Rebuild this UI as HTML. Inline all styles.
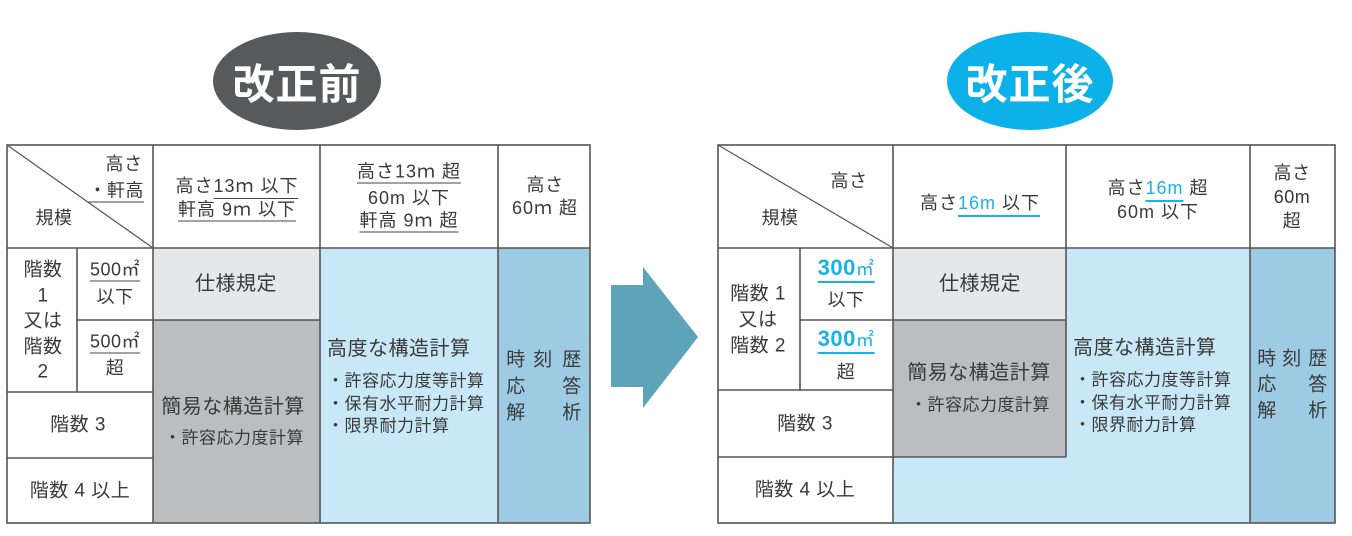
<!DOCTYPE html>
<html><head><meta charset="utf-8"><style>
*{margin:0;padding:0;box-sizing:border-box}
body{width:1352px;height:536px;background:#fff;position:relative;overflow:hidden;font-family:"Liberation Sans","Noto Sans CJK JP",sans-serif;color:#3a3a3a}
.r{position:absolute}
.t{position:absolute;transform:translate(-50%,-50%);white-space:nowrap;font-size:18px;line-height:1;letter-spacing:0.5px}
.l{position:absolute;transform:translateY(-50%);white-space:nowrap;font-size:17px;line-height:1;letter-spacing:0.5px}
.u{border-bottom:1.5px solid #444;padding-bottom:2px}
.ub{border-bottom:2px solid #1ab0e8;padding-bottom:2px}
.b{color:#1ab0e8}
.oval{position:absolute;border-radius:50%;color:#fff;font-weight:bold;font-size:42px;display:flex;align-items:center;justify-content:center;letter-spacing:1px}
</style></head><body>
<div class="oval" style="left:213px;top:32px;width:168px;height:98px;background:#58595b">改正前</div>
<div class="oval" style="left:947px;top:32px;width:166px;height:98px;background:#0db1ea">改正後</div>

<svg class="r" style="left:0;top:0" width="1352" height="536">
<polygon points="611,285 643,285 643,267 698,337 643,408 643,387 611,387" fill="#5da3ba"/>
<rect x="153" y="248" width="167" height="72" fill="#e6e7e8"/>
<rect x="153" y="320" width="167" height="203" fill="#bcbdc0"/>
<rect x="320" y="248" width="178" height="275" fill="#c8e8f8"/>
<rect x="498" y="248" width="92" height="275" fill="#9ccbe3"/>
<g stroke="#555" stroke-width="1.6" fill="none">
<rect x="7" y="145" width="583" height="378"/>
<line x1="7" y1="248" x2="590" y2="248"/>
<line x1="153" y1="145" x2="153" y2="523"/>
<line x1="320" y1="145" x2="320" y2="523"/>
<line x1="498" y1="145" x2="498" y2="523"/>
<line x1="77" y1="248" x2="77" y2="392"/>
<line x1="77" y1="320" x2="320" y2="320"/>
<line x1="7" y1="392" x2="153" y2="392"/>
<line x1="7" y1="458" x2="153" y2="458"/>
<line x1="7" y1="145" x2="153" y2="248" stroke-width="1.2"/>
</g>
<rect x="893" y="248" width="173" height="72" fill="#e6e7e8"/>
<rect x="893" y="320" width="173" height="137" fill="#bcbdc0"/>
<rect x="1066" y="248" width="184" height="209" fill="#c8e8f8"/>
<rect x="893" y="457" width="357" height="66" fill="#c8e8f8"/>
<rect x="1250" y="248" width="85" height="275" fill="#9ccbe3"/>
<g stroke="#555" stroke-width="1.6" fill="none">
<rect x="718" y="145" width="617" height="378"/>
<line x1="718" y1="248" x2="1335" y2="248"/>
<line x1="893" y1="145" x2="893" y2="523"/>
<line x1="1066" y1="145" x2="1066" y2="457"/>
<line x1="1250" y1="145" x2="1250" y2="523"/>
<line x1="800" y1="248" x2="800" y2="390"/>
<line x1="800" y1="320" x2="1066" y2="320"/>
<line x1="718" y1="390" x2="893" y2="390"/>
<line x1="718" y1="457" x2="1066" y2="457"/>
<line x1="718" y1="145" x2="893" y2="248" stroke-width="1.2"/>
</g>
</svg>

<div class="t" style="left:124px;top:164px">高さ</div>
<div class="t u" style="left:116px;top:192px;width:56px;text-align:right">・軒高</div>
<div class="t" style="left:54px;top:218px">規模</div>
<div class="t" style="left:237px;top:186px;letter-spacing:1px">高さ<span class="u">13ｍ 以下</span></div>
<div class="t u" style="left:237px;top:211px;letter-spacing:1px">軒高 9ｍ 以下</div>
<div class="t u" style="left:409px;top:173px;letter-spacing:1px">高さ13ｍ 超</div>
<div class="t" style="left:409px;top:198px;letter-spacing:1px">60m 以下</div>
<div class="t u" style="left:409px;top:222px;letter-spacing:1px">軒高 9ｍ 超</div>
<div class="t" style="left:545px;top:185px">高さ</div>
<div class="t" style="left:545px;top:208px;letter-spacing:1px">60ｍ 超</div>
<div class="t" style="left:43px;top:270px;font-size:19px">階数</div>
<div class="t" style="left:43px;top:296px;font-size:19px">1</div>
<div class="t" style="left:43px;top:321px;font-size:19px">又は</div>
<div class="t" style="left:43px;top:347px;font-size:19px">階数</div>
<div class="t" style="left:43px;top:372px;font-size:19px">2</div>
<div class="t u" style="left:115px;top:271px">500㎡</div>
<div class="t" style="left:115px;top:297px">以下</div>
<div class="t u" style="left:115px;top:343px">500㎡</div>
<div class="t" style="left:115px;top:368px">超</div>
<div class="t" style="left:78px;top:425px;font-size:19px">階数 3</div>
<div class="t" style="left:80px;top:491px;font-size:19px">階数 4 以上</div>
<div class="t" style="left:236px;top:284px;font-size:20px">仕様規定</div>
<div class="t" style="left:233px;top:407px;font-size:20px">簡易な構造計算</div>
<div class="t" style="left:234px;top:438px;font-size:17px">・許容応力度計算</div>
<div class="l" style="left:327px;top:349px;font-size:20px">高度な構造計算</div>
<div class="l" style="left:327px;top:381px">・許容応力度等計算</div>
<div class="l" style="left:327px;top:404px">・保有水平耐力計算</div>
<div class="l" style="left:327px;top:426px">・限界耐力計算</div>
<div class="t" style="left:516px;top:360px;font-size:19px">時</div>
<div class="t" style="left:543px;top:360px;font-size:19px">刻</div>
<div class="t" style="left:572px;top:360px;font-size:19px">歴</div>
<div class="t" style="left:516px;top:387px;font-size:19px">応</div>
<div class="t" style="left:572px;top:387px;font-size:19px">答</div>
<div class="t" style="left:516px;top:413px;font-size:19px">解</div>
<div class="t" style="left:572px;top:413px;font-size:19px">析</div>

<div class="t" style="left:849px;top:181px">高さ</div>
<div class="t" style="left:780px;top:218px">規模</div>
<div class="t" style="left:980px;top:203px;letter-spacing:1px">高さ<span class="ub"><span class="b">16m</span> 以下</span></div>
<div class="t" style="left:1158px;top:188px;letter-spacing:1px">高さ<span class="ub"><span class="b">16m</span></span> 超</div>
<div class="t" style="left:1158px;top:212px;letter-spacing:1px">60m 以下</div>
<div class="t" style="left:1292px;top:173px">高さ</div>
<div class="t" style="left:1292px;top:197px">60m</div>
<div class="t" style="left:1292px;top:221px">超</div>
<div class="t" style="left:758px;top:294px;font-size:19px">階数 1</div>
<div class="t" style="left:758px;top:320px;font-size:19px">又は</div>
<div class="t" style="left:758px;top:346px;font-size:19px">階数 2</div>
<div class="t ub" style="left:846px;top:270px;font-size:22px;font-weight:bold;color:#1ab0e8">300<span style="font-weight:normal;font-size:18px">㎡</span></div>
<div class="t" style="left:846px;top:300px">以下</div>
<div class="t ub" style="left:846px;top:341px;font-size:22px;font-weight:bold;color:#1ab0e8">300<span style="font-weight:normal;font-size:18px">㎡</span></div>
<div class="t" style="left:846px;top:372px">超</div>
<div class="t" style="left:805px;top:424px;font-size:19px">階数 3</div>
<div class="t" style="left:805px;top:490px;font-size:19px">階数 4 以上</div>
<div class="t" style="left:980px;top:284px;font-size:20px">仕様規定</div>
<div class="t" style="left:979px;top:373px;font-size:20px">簡易な構造計算</div>
<div class="t" style="left:980px;top:405px;font-size:17px">・許容応力度計算</div>
<div class="l" style="left:1073px;top:348px;font-size:20px">高度な構造計算</div>
<div class="l" style="left:1074px;top:380px">・許容応力度等計算</div>
<div class="l" style="left:1074px;top:403px">・保有水平耐力計算</div>
<div class="l" style="left:1074px;top:425px">・限界耐力計算</div>
<div class="t" style="left:1267px;top:359px;font-size:19px">時</div>
<div class="t" style="left:1292px;top:359px;font-size:19px">刻</div>
<div class="t" style="left:1318px;top:359px;font-size:19px">歴</div>
<div class="t" style="left:1267px;top:385px;font-size:19px">応</div>
<div class="t" style="left:1318px;top:385px;font-size:19px">答</div>
<div class="t" style="left:1267px;top:411px;font-size:19px">解</div>
<div class="t" style="left:1318px;top:411px;font-size:19px">析</div>
</body></html>
